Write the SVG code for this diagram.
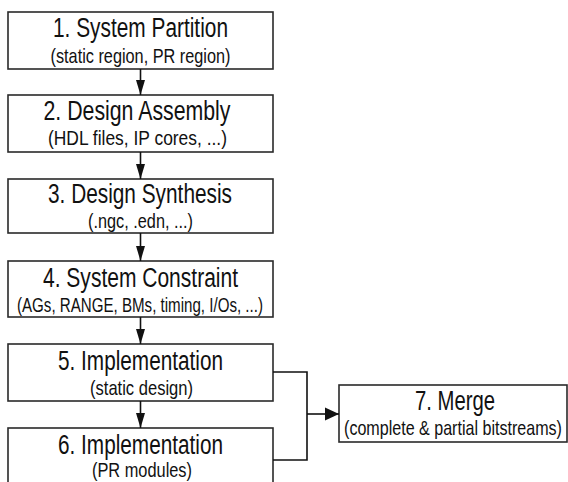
<svg xmlns="http://www.w3.org/2000/svg" width="568" height="482" viewBox="0 0 568 482">
<style>
.box{fill:#fff;stroke:#2a2a2a;stroke-width:1.6}
.t{font-family:"Liberation Sans",Arial,sans-serif;font-size:27px;fill:#111;text-anchor:middle}
.s{font-family:"Liberation Sans",Arial,sans-serif;font-size:21px;fill:#111;text-anchor:middle}
.c{fill:none;stroke:#111;stroke-width:1.6}
</style>
<defs>
<marker id="av" viewBox="0 0 10 15" refX="5" refY="15" markerWidth="10" markerHeight="15" markerUnits="userSpaceOnUse" orient="0">
<path d="M0.5,0 L9.5,0 L5,15 z" fill="#111"/>
</marker>
<marker id="ah2" viewBox="0 0 14 14" refX="14" refY="7" markerWidth="14" markerHeight="14" markerUnits="userSpaceOnUse" orient="0">
<path d="M0,0.5 L14,7 L0,13.5 z" fill="#111"/>
</marker>
</defs>
<g id="n1"><rect class="box" x="8" y="12" width="265" height="57"/>
<text class="t" x="140.5" y="37" textLength="175" lengthAdjust="spacingAndGlyphs">1. System Partition</text>
<text class="s" x="140.5" y="63" textLength="180" lengthAdjust="spacingAndGlyphs">(static region, PR region)</text></g>
<g id="n2"><rect class="box" x="8" y="95" width="265" height="57"/>
<text class="t" x="137" y="120" textLength="187" lengthAdjust="spacingAndGlyphs">2. Design Assembly</text>
<text class="s" x="137.5" y="145" textLength="179" lengthAdjust="spacingAndGlyphs">(HDL files, IP cores, ...)</text></g>
<g id="n3"><rect class="box" x="8" y="179" width="265" height="54"/>
<text class="t" x="140" y="203" textLength="184" lengthAdjust="spacingAndGlyphs">3. Design Synthesis</text>
<text class="s" x="140.5" y="228" textLength="105" lengthAdjust="spacingAndGlyphs">(.ngc, .edn, ...)</text></g>
<g id="n4"><rect class="box" x="8" y="261" width="265" height="56"/>
<text class="t" x="140.5" y="287" textLength="195" lengthAdjust="spacingAndGlyphs">4. System Constraint</text>
<text class="s" x="140" y="312" textLength="246" lengthAdjust="spacingAndGlyphs">(AGs, RANGE, BMs, timing, I/Os, ...)</text></g>
<g id="n5"><rect class="box" x="8" y="344" width="265" height="57"/>
<text class="t" x="140.5" y="370" textLength="165" lengthAdjust="spacingAndGlyphs">5. Implementation</text>
<text class="s" x="141.5" y="395" textLength="103" lengthAdjust="spacingAndGlyphs">(static design)</text></g>
<g id="n6"><rect class="box" x="8" y="428" width="265" height="57"/>
<text class="t" x="140.5" y="454" textLength="165" lengthAdjust="spacingAndGlyphs">6. Implementation</text>
<text class="s" x="142" y="477" textLength="100" lengthAdjust="spacingAndGlyphs">(PR modules)</text></g>
<g id="n7"><rect class="box" x="339" y="385" width="228" height="57"/>
<text class="t" x="455" y="410" textLength="80" lengthAdjust="spacingAndGlyphs">7. Merge</text>
<text class="s" transform="translate(453,435) scale(0.766,1)" x="0" y="0">(complete &amp; partial bitstreams)</text></g>
<g id="connectors">
<line class="c" x1="140.5" y1="69" x2="140.5" y2="95" marker-end="url(#av)"/>
<line class="c" x1="140.5" y1="152" x2="140.5" y2="179" marker-end="url(#av)"/>
<line class="c" x1="140.5" y1="233" x2="140.5" y2="261" marker-end="url(#av)"/>
<line class="c" x1="140.5" y1="317" x2="140.5" y2="344" marker-end="url(#av)"/>
<line class="c" x1="140.5" y1="401" x2="140.5" y2="428" marker-end="url(#av)"/>
<polyline class="c" points="273,372 307,372 307,460 273,460"/>
<line class="c" x1="307" y1="414" x2="339" y2="414" stroke-width="2.6" marker-end="url(#ah2)"/>
</g>
</svg>
